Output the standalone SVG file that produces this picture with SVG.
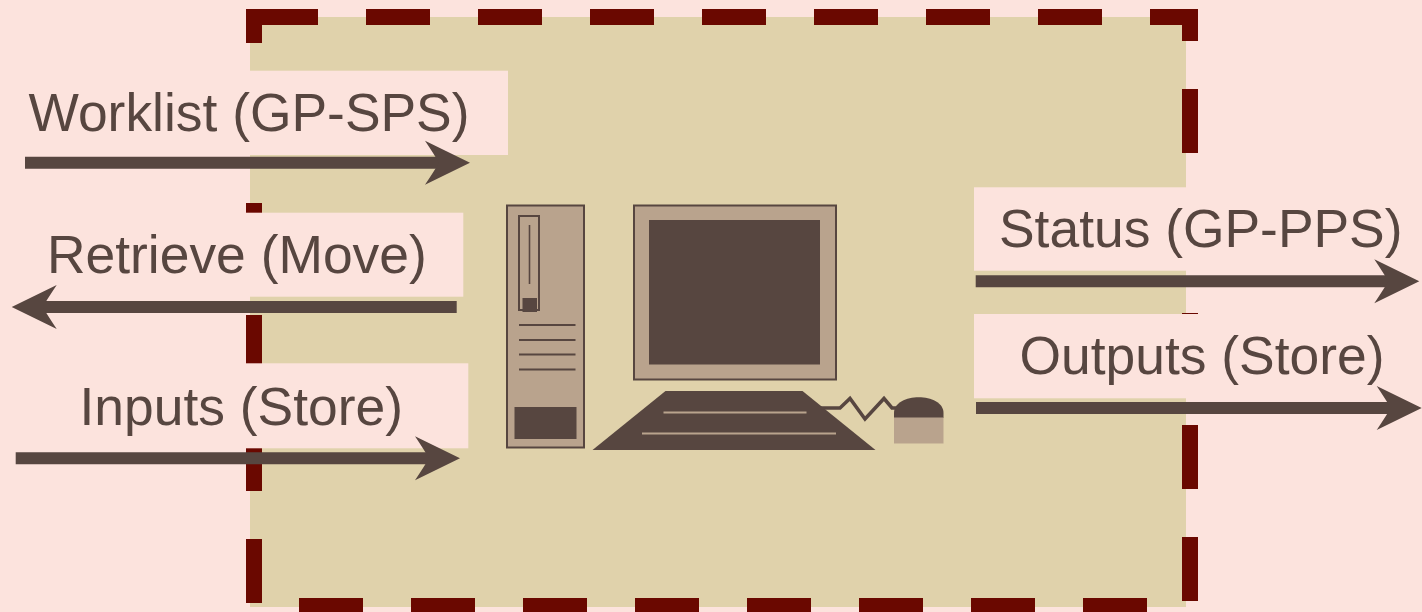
<svg xmlns="http://www.w3.org/2000/svg" xmlns:xlink="http://www.w3.org/1999/xlink" width="1422" height="612" viewBox="0 0 1422 612">
  <style>
    .bg { fill: #FCE3DD; }
    .label { font-family: "Liberation Sans", Arial, sans-serif; font-size: 53.4px; fill: #574640; }
    .shaft { stroke: #574640; stroke-width: 12; fill: none; }
    .head { fill: #574640; }
    .ink { fill: #574640; }
    .tan { fill: #B9A38D; }
    .edge { fill: #B9A38D; stroke: #574640; stroke-width: 2; }
    .rule { stroke: #574640; stroke-width: 2; fill: none; }
    .key { stroke: #B9A38D; stroke-width: 2; fill: none; }
  </style>
  <defs>
    <!-- arrowhead with its tip at the origin, pointing right -->
    <path id="arrowhead" class="head" d="M0,0 L-45,-22 Q-35,-7 -31,0 Q-35,7 -45,22 Z"/>
  </defs>

  <rect class="bg" x="0" y="0" width="1422" height="612"/>

  <!-- system boundary -->
  <g id="boundary">
    <rect x="250" y="17" width="936" height="590" fill="#E0D2AB"/>
    <rect x="254" y="17" width="936" height="589" fill="none" stroke="#6A0800" stroke-width="16" stroke-dasharray="64 48"/>
  </g>

  <!-- workstation: tower, monitor, keyboard, mouse -->
  <g id="workstation">
    <rect class="edge" x="507" y="205.5" width="77" height="242"/>
    <rect class="edge" x="519" y="216" width="20" height="94"/>
    <line x1="529.5" y1="225" x2="529.5" y2="284" stroke="#574640" stroke-width="1.6"/>
    <rect class="ink" x="522.5" y="298" width="14.5" height="14"/>
    <line class="rule" x1="519" y1="325" x2="575.5" y2="325"/>
    <line class="rule" x1="519" y1="340" x2="575.5" y2="340"/>
    <line class="rule" x1="519" y1="354.5" x2="575.5" y2="354.5"/>
    <line class="rule" x1="519" y1="369.5" x2="575.5" y2="369.5"/>
    <rect class="ink" x="514.5" y="407" width="62" height="32"/>

    <rect class="edge" x="634" y="205.5" width="202" height="174"/>
    <rect class="ink" x="649" y="220" width="171" height="144.5"/>

    <polygon class="ink" points="665.5,391 802.5,391 875.5,450 592.5,450"/>
    <line class="key" x1="663.5" y1="412.5" x2="806.5" y2="412.5"/>
    <line class="key" x1="642" y1="433.5" x2="836" y2="433.5"/>

    <polyline points="821,408 840,408 850,398.5 865,419 884,398.5 892,408 896,408" fill="none" stroke="#574640" stroke-width="3.5" stroke-linejoin="miter"/>
    <path class="ink" d="M894,418 L894,413 C894,392 943.5,392 943.5,413 L943.5,418 Z"/>
    <rect class="tan" x="894" y="417.5" width="49.5" height="26"/>
  </g>

  <!-- label backings -->
  <g id="label-backings" class="bg">
    <rect x="0" y="70.7" width="508" height="84.3"/>
    <rect x="0" y="212.7" width="463.3" height="84"/>
    <rect x="0" y="363.3" width="468.3" height="85"/>
    <rect x="974" y="187.3" width="448" height="83.4"/>
    <rect x="974" y="314" width="448" height="84.3"/>
  </g>

  <!-- message flows -->
  <g id="connectors">
    <g id="worklist">
      <line class="shaft" x1="25" y1="162.7" x2="445" y2="162.7"/>
      <use xlink:href="#arrowhead" transform="translate(470,162.7)"/>
    </g>
    <g id="retrieve">
      <line class="shaft" x1="456.7" y1="307" x2="35" y2="307"/>
      <use xlink:href="#arrowhead" transform="translate(11.7,307) rotate(180)"/>
    </g>
    <g id="inputs">
      <line class="shaft" x1="15.7" y1="458.3" x2="436" y2="458.3"/>
      <use xlink:href="#arrowhead" transform="translate(460,458.3)"/>
    </g>
    <g id="status">
      <line class="shaft" x1="975.7" y1="281.2" x2="1395" y2="281.2"/>
      <use xlink:href="#arrowhead" transform="translate(1419.3,281.2)"/>
    </g>
    <g id="outputs">
      <line class="shaft" x1="976" y1="407.9" x2="1397" y2="407.9"/>
      <use xlink:href="#arrowhead" transform="translate(1421.7,407.9)"/>
    </g>
  </g>

  <g id="labels">
    <text class="label" x="28.5" y="131">Worklist (GP-SPS)</text>
    <text class="label" x="47" y="273.3">Retrieve (Move)</text>
    <text class="label" x="79.5" y="425">Inputs (Store)</text>
    <text class="label" x="999" y="246.7">Status (GP-PPS)</text>
    <text class="label" x="1019.5" y="374">Outputs (Store)</text>
  </g>
</svg>
